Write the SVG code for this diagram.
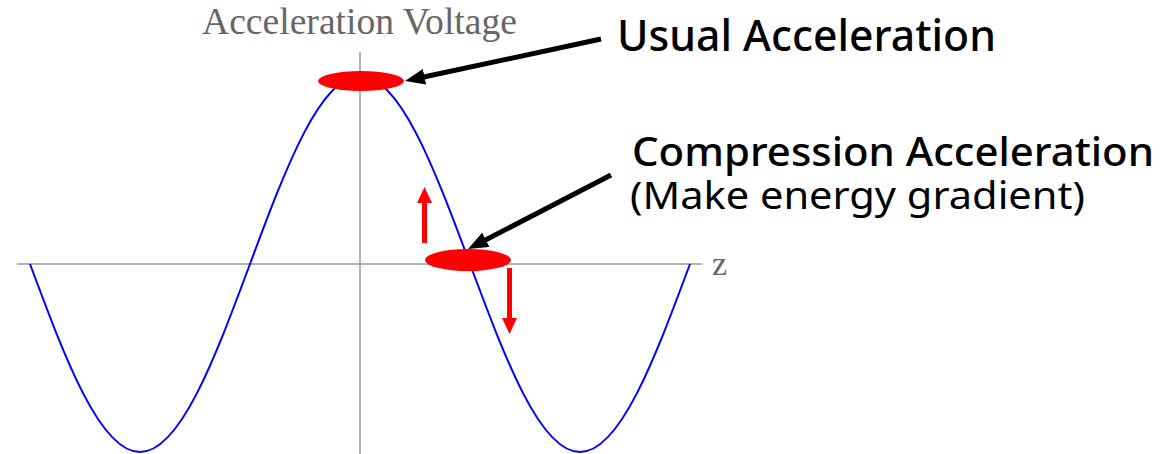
<svg xmlns="http://www.w3.org/2000/svg" width="1172" height="454" viewBox="0 0 1172 454">
<style>
.axis{stroke:#999;stroke-width:1.5;fill:none}
.wave{stroke:#0000ff;stroke-width:2;fill:none}
.spot{fill:#ff0000}
.ptr{stroke:#000;stroke-width:5;fill:none;stroke-linecap:butt}
.red{stroke:#ff0000;stroke-width:5;fill:none}
.redhead{fill:#ff0000}
.serif{font-family:"Liberation Serif","Times New Roman",serif;fill:#666}
.label{font-family:"Noto Sans","Open Sans","Liberation Sans",sans-serif;fill:#000}
</style>
<defs>
<marker id="ah" viewBox="0 0 20 16" refX="8" refY="8" markerWidth="20" markerHeight="16" markerUnits="userSpaceOnUse" orient="auto">
<path d="M0,0 L20,8 L0,16 z" fill="#000"/>
</marker>
</defs>
<g id="axes">
<line class="axis" x1="17" y1="264" x2="702" y2="264"/>
<line class="axis" x1="360" y1="52" x2="360" y2="454"/>
<text class="serif" x="202" y="34" font-size="37" textLength="315" lengthAdjust="spacingAndGlyphs">Acceleration Voltage</text>
<text class="serif" x="712" y="275" font-size="34">z</text>
</g>
<g id="wave">
<path class="wave" d="M30,264 C65.87,360.31 100.19,452 140,452 C179.81,452 214.13,360.31 250,264 C285.87,167.69 320.19,76 360,76 C399.81,76 434.13,167.69 470,264 C505.87,360.31 540.19,452 580,452 C619.81,452 654.13,360.31 690,264"/>
</g>
<g id="usual-spot">
<ellipse class="spot" cx="361" cy="81" rx="43" ry="10"/>
</g>
<g id="compression-spot">
<ellipse class="spot" cx="468" cy="260" rx="43" ry="11"/>
</g>
<g id="red-arrows">
<line class="red" x1="424.5" y1="243" x2="424.5" y2="201"/>
<polygon class="redhead" points="417,203 424.5,187 432,203"/>
<line class="red" x1="509.5" y1="268" x2="509.5" y2="320"/>
<polygon class="redhead" points="502,318 509.5,334 517,318"/>
</g>
<g id="connectors">
<line class="ptr" x1="601" y1="39" x2="416.7" y2="78.5" marker-end="url(#ah)"/>
<line class="ptr" x1="611" y1="175" x2="478.7" y2="243.5" marker-end="url(#ah)"/>
</g>
<g id="usual-label">
<text class="label" x="617" y="51" font-size="43" font-weight="500" textLength="379" lengthAdjust="spacingAndGlyphs">Usual Acceleration</text>
</g>
<g id="compression-label">
<text class="label" x="632" y="166" font-size="40" font-weight="500" textLength="522" lengthAdjust="spacingAndGlyphs">Compression Acceleration</text>
<text class="label" x="630" y="209" font-size="38" textLength="455" lengthAdjust="spacingAndGlyphs">(Make energy gradient)</text>
</g>
</svg>
